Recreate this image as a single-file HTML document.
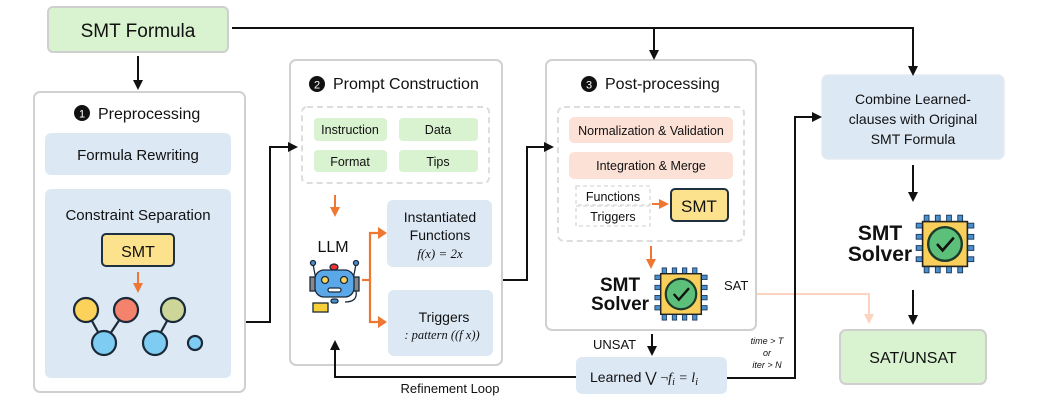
<!DOCTYPE html>
<html><head><meta charset="utf-8"><style>
body{margin:0;background:#fff;}
svg text{font-family:"Liberation Sans",sans-serif;fill:#111;}
.m{font-family:"Liberation Serif",serif;font-style:italic;}
</style></head><body>
<svg width="1046" height="404" viewBox="0 0 1046 404" xmlns="http://www.w3.org/2000/svg">
<defs>
<marker id="ab" markerWidth="10" markerHeight="10" refX="8" refY="5" orient="auto" markerUnits="userSpaceOnUse"><path d="M0,0 L10,5 L0,10 z" fill="#111"/></marker>
<marker id="ao" markerWidth="10" markerHeight="10" refX="7" refY="5" orient="auto" markerUnits="userSpaceOnUse"><path d="M0,0 L10,5 L0,10 z" fill="#ee7733"/></marker>
<marker id="ap" markerWidth="10" markerHeight="10" refX="7" refY="5" orient="auto" markerUnits="userSpaceOnUse"><path d="M0,0 L10,5 L0,10 z" fill="#fbd3bf"/></marker>
<g id="chip">
<g fill="#4a8fd0" stroke="#1d3b5a" stroke-width="0.6">
<rect x="-18" y="-13" width="8" height="3"/><rect x="-18" y="-6" width="8" height="3"/><rect x="-18" y="1" width="8" height="3"/><rect x="-18" y="8" width="8" height="3"/>
<rect x="10" y="-13" width="8" height="3"/><rect x="10" y="-6" width="8" height="3"/><rect x="10" y="1" width="8" height="3"/><rect x="10" y="8" width="8" height="3"/>
<rect x="-13" y="-18" width="3" height="8"/><rect x="-6" y="-18" width="3" height="8"/><rect x="1" y="-18" width="3" height="8"/><rect x="8" y="-18" width="3" height="8"/>
<rect x="-13" y="10" width="3" height="8"/><rect x="-6" y="10" width="3" height="8"/><rect x="1" y="10" width="3" height="8"/><rect x="8" y="10" width="3" height="8"/>
</g>
<rect x="-14" y="-14" width="28" height="28" fill="#f7cf5a" stroke="#222" stroke-width="1"/>
<circle r="10.5" fill="#5cc07a" stroke="#1d3b2a" stroke-width="1.5"/>
<path d="M-5,0 L-1.5,4 L5.5,-4" fill="none" stroke="#111" stroke-width="1.6"/>
</g>
</defs>

<polyline points="718,294 869,294 869,321" fill="none" stroke="#fbd3bf" stroke-width="2" marker-end="url(#ap)"/>

<!-- SMT Formula -->
<rect x="48" y="7" width="180" height="45" rx="5" fill="#d9f2d0" stroke="#cfcfcf" stroke-width="2"/>
<text x="138" y="37" font-size="19" text-anchor="middle">SMT Formula</text>

<!-- Preprocessing -->
<rect x="34" y="92" width="211" height="300" rx="6" fill="#fff" stroke="#d0d0d0" stroke-width="2"/>
<circle cx="82" cy="113" r="8" fill="#111"/><text x="82" y="117.5" font-size="11" text-anchor="middle" style="fill:#fff">1</text>
<text x="98" y="119" font-size="16">Preprocessing</text>
<rect x="45" y="133" width="186" height="42" rx="6" fill="#dde8f5"/>
<text x="138" y="160" font-size="15" text-anchor="middle">Formula Rewriting</text>
<rect x="45" y="189" width="186" height="189" rx="6" fill="#dde8f5"/>
<text x="138" y="220" font-size="15" text-anchor="middle">Constraint Separation</text>
<rect x="102" y="234" width="72" height="32" rx="4" fill="#fde28d" stroke="#1f3040" stroke-width="2"/>
<text x="138" y="257" font-size="16" text-anchor="middle">SMT</text>
<line x1="138" y1="272" x2="138" y2="290" stroke="#ee7733" stroke-width="2" marker-end="url(#ao)"/>
<g stroke="#1a2a38" stroke-width="2.2">
<line x1="86" y1="310" x2="104" y2="343"/><line x1="126" y1="310" x2="104" y2="343"/><line x1="173" y1="310" x2="155" y2="343"/>
<circle cx="86" cy="310" r="12" fill="#fcd25a"/><circle cx="126" cy="310" r="12" fill="#f4826c"/><circle cx="173" cy="310" r="12" fill="#cdd698"/>
<circle cx="104" cy="343" r="12" fill="#7fccf2"/><circle cx="155" cy="343" r="12" fill="#7fccf2"/><circle cx="195" cy="343" r="7" fill="#7fccf2"/>
</g>

<!-- Prompt Construction -->
<rect x="290" y="60" width="212" height="305" rx="6" fill="#fff" stroke="#d0d0d0" stroke-width="2"/>
<circle cx="317" cy="84" r="8" fill="#111"/><text x="317" y="88.5" font-size="11" text-anchor="middle" style="fill:#fff">2</text>
<text x="333" y="89" font-size="16">Prompt Construction</text>
<rect x="302" y="107" width="187" height="76" rx="5" fill="none" stroke="#ddd" stroke-width="2" stroke-dasharray="6,4"/>
<g fill="#d9f2d0"><rect x="314" y="118" width="73" height="23" rx="4"/><rect x="399" y="118" width="79" height="23" rx="4"/><rect x="314" y="150" width="73" height="22" rx="4"/><rect x="399" y="150" width="79" height="22" rx="4"/></g>
<g font-size="12.5" text-anchor="middle"><text x="350" y="134">Instruction</text><text x="438" y="134">Data</text><text x="350" y="166">Format</text><text x="438" y="166">Tips</text></g>
<line x1="335" y1="195" x2="335" y2="214" stroke="#ee7733" stroke-width="2" marker-end="url(#ao)"/>
<text x="333" y="252" font-size="16" text-anchor="middle">LLM</text>
<!-- robot -->
<g stroke="#1a2a38" stroke-width="1.3">
<line x1="313" y1="264" x2="316" y2="280"/><line x1="356" y1="264" x2="353" y2="280"/>
<circle cx="313" cy="263" r="2.5" fill="#4a8fd0"/><circle cx="356" cy="263" r="2.5" fill="#4a8fd0"/>
<ellipse cx="334" cy="267" rx="4" ry="3" fill="#e33"/>
<rect x="310" y="277" width="6" height="14" fill="#888"/><rect x="353" y="277" width="6" height="14" fill="#888"/>
<rect x="315" y="270" width="39" height="27" rx="9" fill="#5aa8e8"/>
<circle cx="325" cy="280" r="3.5" fill="#fcd25a"/><circle cx="344" cy="280" r="3.5" fill="#fcd25a"/>
<rect x="328" y="288" width="13" height="4" rx="2" fill="#fff"/>
<path d="M356,291 Q358,302 345,302" fill="none"/><rect x="331" y="299" width="7" height="4" rx="2" fill="#4a8fd0"/>
<rect x="313" y="303" width="15" height="9" fill="#f7cf3a"/>
</g>
<g stroke="#ee7733" stroke-width="2.2" fill="none">
<line x1="362" y1="280" x2="370" y2="280"/>
<polyline points="384,233 370,233 370,322 384,322"/>
</g>
<path d="M378,227 L387,233 L378,239z M378,316 L387,322 L378,328z" fill="#ee7733"/>
<rect x="387" y="200" width="105" height="67" rx="6" fill="#dde8f5"/>
<text x="440" y="222" font-size="14" text-anchor="middle">Instantiated</text>
<text x="440" y="240" font-size="14" text-anchor="middle">Functions</text>
<text x="440" y="258" font-size="13" text-anchor="middle" class="m">f(x) = 2x</text>
<rect x="388" y="290" width="105" height="66" rx="6" fill="#dde8f5"/>
<text x="444" y="322" font-size="14" text-anchor="middle">Triggers</text>
<text x="442" y="339" font-size="12.5" text-anchor="middle" class="m">: pattern ((f x))</text>
<text x="450" y="393" font-size="13" text-anchor="middle">Refinement Loop</text>

<!-- Post-processing -->
<rect x="546" y="60" width="210" height="270" rx="6" fill="#fff" stroke="#d0d0d0" stroke-width="2"/>
<circle cx="589" cy="84" r="8" fill="#111"/><text x="589" y="88.5" font-size="11" text-anchor="middle" style="fill:#fff">3</text>
<text x="605" y="89" font-size="16">Post-processing</text>
<rect x="558" y="107" width="186" height="134" rx="6" fill="none" stroke="#ddd" stroke-width="2" stroke-dasharray="6,4"/>
<rect x="569" y="117" width="164" height="26" rx="5" fill="#fce1d6"/>
<text x="651" y="135" font-size="12.5" text-anchor="middle">Normalization &amp; Validation</text>
<rect x="569" y="152" width="164" height="27" rx="5" fill="#fce1d6"/>
<text x="651" y="170" font-size="12.5" text-anchor="middle">Integration &amp; Merge</text>
<rect x="576" y="186" width="74" height="19" fill="none" stroke="#ddd" stroke-width="1.5" stroke-dasharray="4,3"/>
<rect x="576" y="206" width="74" height="20" fill="none" stroke="#ddd" stroke-width="1.5" stroke-dasharray="4,3"/>
<text x="613" y="201" font-size="12.5" text-anchor="middle">Functions</text>
<text x="613" y="221" font-size="12.5" text-anchor="middle">Triggers</text>
<line x1="652" y1="204" x2="666" y2="204" stroke="#ee7733" stroke-width="2" marker-end="url(#ao)"/>
<rect x="671" y="189" width="57" height="32" rx="4" fill="#fde28d" stroke="#1f3040" stroke-width="2"/>
<text x="699" y="212" font-size="17" text-anchor="middle">SMT</text>
<line x1="651" y1="246" x2="651" y2="266" stroke="#ee7733" stroke-width="2" marker-end="url(#ao)"/>
<text x="620" y="291" font-size="19" font-weight="bold" text-anchor="middle">SMT</text>
<text x="620" y="310" font-size="19" font-weight="bold" text-anchor="middle">Solver</text>
<g transform="translate(681,294) scale(1.45)"><use href="#chip"/></g>
<text x="724" y="290" font-size="13">SAT</text>
<text x="593" y="349" font-size="13">UNSAT</text>
<rect x="576" y="357" width="151" height="37" rx="6" fill="#dde8f5"/>
<text x="590" y="382" font-size="14">Learned <tspan class="m" style="font-style:normal">⋁ ¬</tspan><tspan class="m">f<tspan font-size="10" dy="3">i</tspan><tspan dy="-3"> = l</tspan><tspan font-size="10" dy="3">i</tspan></tspan></text>
<g font-size="9" class="m" text-anchor="middle"><text x="767" y="344">time &gt; T</text><text x="767" y="356">or</text><text x="767" y="368">iter &gt; N</text></g>

<!-- right column -->
<rect x="822" y="75" width="182" height="84" rx="6" fill="#dde8f5" stroke="#e5eaf0" stroke-width="1.5"/>
<g font-size="14" text-anchor="middle"><text x="913" y="104">Combine Learned-</text><text x="913" y="124">clauses with Original</text><text x="913" y="144">SMT Formula</text></g>
<text x="880" y="240" font-size="21" font-weight="bold" text-anchor="middle">SMT</text>
<text x="880" y="261" font-size="21" font-weight="bold" text-anchor="middle">Solver</text>
<g transform="translate(945,244) scale(1.6)"><use href="#chip"/></g>
<rect x="840" y="330" width="146" height="54" rx="6" fill="#d9f2d0" stroke="#cfcfcf" stroke-width="2"/>
<text x="913" y="363" font-size="16" text-anchor="middle">SAT/UNSAT</text>

<!-- connectors black (on top) -->
<g stroke="#111" stroke-width="2" fill="none">
<line x1="138" y1="56" x2="138" y2="88" marker-end="url(#ab)"/>
<polyline points="232,28 913,28 913,74" marker-end="url(#ab)"/>
<line x1="654" y1="28" x2="654" y2="58" marker-end="url(#ab)"/>
<polyline points="246,322 270,322 270,147 296,147" marker-end="url(#ab)"/>
<polyline points="503,280 527,280 527,147 552,147" marker-end="url(#ab)"/>
<polyline points="576,377 335,377 335,342" marker-end="url(#ab)"/>
<polyline points="727,378 795,378 795,117 820,117" marker-end="url(#ab)"/>
<line x1="652" y1="334" x2="652" y2="354" marker-end="url(#ab)"/>
<line x1="913" y1="165" x2="913" y2="200" marker-end="url(#ab)"/>
<line x1="913" y1="290" x2="913" y2="323" marker-end="url(#ab)"/>
</g>
</svg>
</body></html>
